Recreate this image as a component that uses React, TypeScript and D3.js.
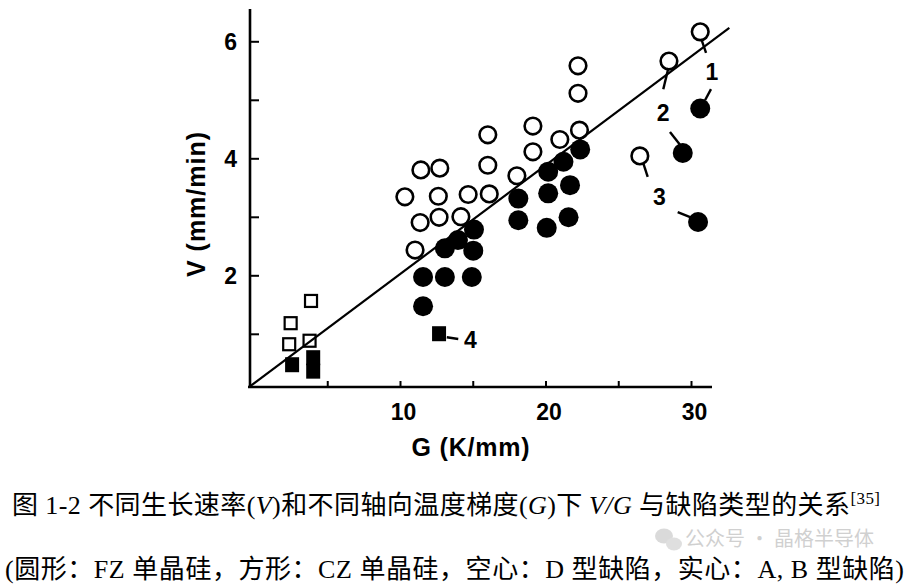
import React from "react";
import * as d3 from "d3";

// ---- Data (G in K/mm, V in mm/min) ----
const xTicks = [5, 10, 15, 20, 25, 30];
const xTickLabels = [10, 20, 30];
const yTicks = [1, 2, 3, 4, 5, 6];
const yTickLabels = [2, 4, 6];

// FZ, D-type (open circles)
const openCircleG = [10.3, 11.4, 12.7, 12.6, 12.65, 11.35, 14.15, 14.65, 16.1, 16.0, 16.0, 18.0, 19.1, 19.1, 20.95, 22.3, 22.2, 22.2, 11.0, 26.45, 28.45, 30.6];
const openCircleV = [3.35, 3.81, 3.84, 3.36, 3.0, 2.91, 3.01, 3.39, 3.4, 3.89, 4.41, 3.71, 4.56, 4.12, 4.33, 4.49, 5.12, 5.59, 2.44, 4.05, 5.67, 6.17];

// FZ, A/B-type (filled circles)
const filledCircleG = [22.35, 21.2, 20.15, 21.65, 20.15, 18.1, 18.1, 20.05, 21.55, 15.05, 13.95, 13.05, 15.0, 11.55, 13.05, 14.9, 11.55, 30.6, 29.4, 30.45];
const filledCircleV = [4.16, 3.95, 3.78, 3.55, 3.41, 3.32, 2.95, 2.82, 3.0, 2.79, 2.61, 2.47, 2.43, 1.98, 1.98, 1.98, 1.48, 4.86, 4.1, 2.92];

// CZ, D-type (open squares)
const openSquareG = [3.85, 2.45, 2.35, 3.75];
const openSquareV = [1.57, 1.19, 0.83, 0.89];

// CZ, A/B-type (filled squares)
const filledSquareG = [2.55, 4.0, 4.0, 12.65];
const filledSquareV = [0.48, 0.6, 0.37, 1.01];

// V/G boundary line
const lineG = [-0.4, 32.6];
const lineV = [0.1, 6.24];

// Numbered annotations
const annotLabels = ["1", "2", "3", "4"];
const annotG = [31.4, 28.05, 27.8, 14.8];
const annotV = [5.49, 4.78, 3.35, 0.9];

// Leader lines [G1, V1, G2, V2]
const leaderG1 = [30.7, 28.41, 31.34, 28.52, 26.69, 29.05, 13.18];
const leaderV1 = [6.03, 5.55, 5.19, 4.46, 3.92, 3.09, 0.95];
const leaderG2 = [31.0, 28.06, 30.93, 29.21, 26.99, 30.12, 13.97];
const leaderV2 = [5.81, 5.19, 5.0, 4.24, 3.69, 2.98, 0.92];

const xTitle = "G (K/mm)";
const yTitle = "V (mm/min)";

export default function App() {
  const x = d3.scaleLinear().domain([0, 30]).range([255, 691.5]);
  const y = d3.scaleLinear().domain([0, 6]).range([392.8, 41.8]);
  const axisY = 387;
  const axisX = 250;
  const line = d3
    .line<number>()
    .x((_, i) => x(lineG[i]))
    .y((_, i) => y(lineV[i]));

  const sans = "'Liberation Sans', Arial, Helvetica, sans-serif";
  const serif = "'Liberation Serif', 'Times New Roman', serif";
  const cjk = "'Noto Sans CJK SC', sans-serif";

  return (
    <div style={{ position: "absolute", left: 0, top: 0 }}>
      <svg width={911} height={585} viewBox="0 0 911 585" style={{ display: "block", background: "#fff" }}>
        <rect x={0} y={0} width={911} height={585} fill="#fff" />
        {/* axes */}
        <line x1={axisX} y1={9} x2={axisX} y2={axisY + 1} stroke="#000" strokeWidth={2.6} />
        <line x1={axisX - 2} y1={axisY} x2={712} y2={axisY} stroke="#000" strokeWidth={2.6} />
        {yTicks.map((t) => (
          <line key={"yt" + t} x1={axisX} x2={axisX + 9} y1={y(t)} y2={y(t)} stroke="#000" strokeWidth={2} />
        ))}
        {xTicks.map((t) => (
          <line key={"xt" + t} x1={x(t)} x2={x(t)} y1={axisY} y2={axisY - 6} stroke="#000" strokeWidth={2} />
        ))}
        {yTickLabels.map((t) => (
          <text key={"yl" + t} x={237} y={y(t)} dy="0.36em" textAnchor="end" fontFamily={sans} fontWeight="bold" fontSize={23}>
            {t}
          </text>
        ))}
        {xTickLabels.map((t) => (
          <text key={"xl" + t} x={x(t) + 3} y={420} textAnchor="middle" fontFamily={sans} fontWeight="bold" fontSize={23}>
            {t}
          </text>
        ))}
        <text x={471} y={456} textAnchor="middle" fontFamily={sans} fontWeight="bold" fontSize={25} letterSpacing={0.8}>
          {xTitle}
        </text>
        <text
          transform="translate(205,204) rotate(-90)"
          textAnchor="middle"
          fontFamily={sans}
          fontWeight="bold"
          fontSize={25}
          letterSpacing={1}
        >
          {yTitle}
        </text>

        {/* markers */}
        {openSquareG.map((g, i) => (
          <rect key={"os" + i} x={x(g) - 6} y={y(openSquareV[i]) - 6} width={12} height={12} fill="#fff" stroke="#000" strokeWidth={2.2} />
        ))}
        {filledSquareG.map((g, i) => (
          <rect key={"fs" + i} x={x(g) - 7} y={y(filledSquareV[i]) - 7.5} width={14} height={15} fill="#000" />
        ))}
        {openCircleG.map((g, i) => (
          <circle key={"oc" + i} cx={x(g)} cy={y(openCircleV[i])} r={8.3} fill="#fff" stroke="#000" strokeWidth={2.6} />
        ))}
        {filledCircleG.map((g, i) => (
          <circle key={"fc" + i} cx={x(g)} cy={y(filledCircleV[i])} r={10} fill="#000" />
        ))}

        {/* boundary line */}
        <path d={line(lineG) || ""} fill="none" stroke="#000" strokeWidth={2.2} />

        {/* leaders and annotations */}
        {leaderG1.map((g, i) => (
          <line key={"ld" + i} x1={x(g)} y1={y(leaderV1[i])} x2={x(leaderG2[i])} y2={y(leaderV2[i])} stroke="#000" strokeWidth={2.4} />
        ))}
        {annotLabels.map((l, i) => (
          <text key={"an" + i} x={x(annotG[i])} y={y(annotV[i])} dy="0.36em" textAnchor="middle" fontFamily={sans} fontWeight="bold" fontSize={23}>
            {l}
          </text>
        ))}

        {/* watermark */}
        <g opacity={0.3}>
          <ellipse cx={664} cy={536} rx={9} ry={7.5} fill="#888" />
          <ellipse cx={674} cy={544} rx={8} ry={6.5} fill="#999" />
          <text x={685} y={546} fontFamily={cjk} fontSize={20} fill="#666">
            公众号 · 晶格半导体
          </text>
        </g>

        {/* caption */}
        <text x={12} y={514} fontSize={26} fontFamily={serif} textLength={868} lengthAdjust="spacing">
          <tspan fontFamily={cjk}>图</tspan>
          <tspan> 1-2 </tspan>
          <tspan fontFamily={cjk}>不同生长速率</tspan>
          <tspan>(</tspan>
          <tspan fontStyle="italic">V</tspan>
          <tspan>)</tspan>
          <tspan fontFamily={cjk}>和不同轴向温度梯度</tspan>
          <tspan>(</tspan>
          <tspan fontStyle="italic">G</tspan>
          <tspan>)</tspan>
          <tspan fontFamily={cjk}>下 </tspan>
          <tspan fontStyle="italic">V/G </tspan>
          <tspan fontFamily={cjk}>与缺陷类型的关系</tspan>
          <tspan fontSize={17} dy={-10}>[35]</tspan>
        </text>
        <text x={5} y={578} fontSize={26} fontFamily={serif} textLength={899} lengthAdjust="spacing">
          <tspan>(</tspan>
          <tspan fontFamily={cjk}>圆形：</tspan>
          <tspan>FZ </tspan>
          <tspan fontFamily={cjk}>单晶硅，方形：</tspan>
          <tspan>CZ </tspan>
          <tspan fontFamily={cjk}>单晶硅，空心：</tspan>
          <tspan>D </tspan>
          <tspan fontFamily={cjk}>型缺陷，实心：</tspan>
          <tspan>A, B </tspan>
          <tspan fontFamily={cjk}>型缺陷</tspan>
          <tspan>)</tspan>
        </text>
      </svg>
    </div>
  );
}
